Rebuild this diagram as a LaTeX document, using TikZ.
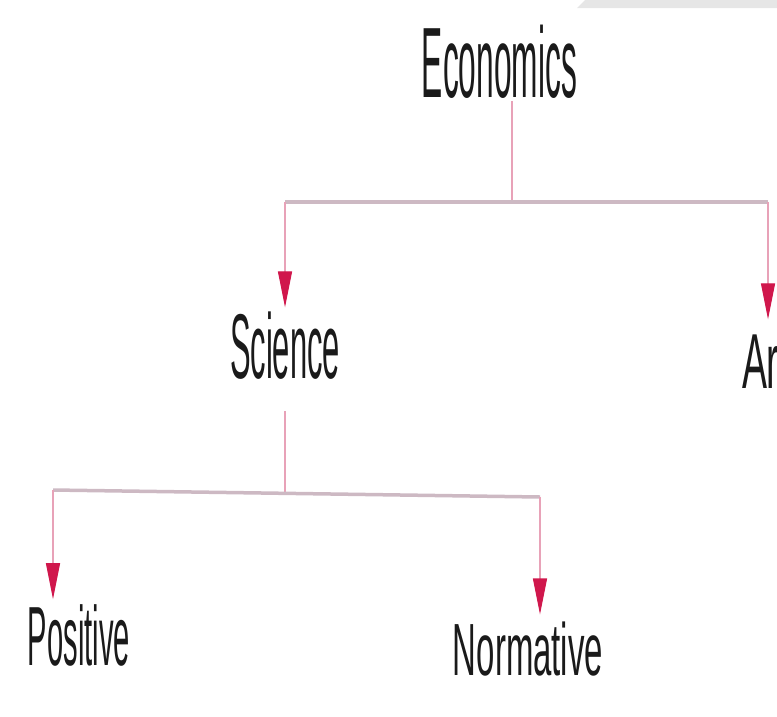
\documentclass[tikz,border=0pt]{standalone}
\usepackage{fontspec}
\setmainfont{Liberation Sans}
\usetikzlibrary{arrows.meta}
\definecolor{stemc}{HTML}{E8A2B8}
\definecolor{barc}{HTML}{CDB9C3}
\definecolor{tipc}{HTML}{D0174C}
\definecolor{topgray}{HTML}{E6E6E6}
\definecolor{txtc}{HTML}{1A1A1A}
\begin{document}
\begin{tikzpicture}[x=1pt,y=-1pt,
  lbl/.style={inner sep=0pt, outer sep=0pt, anchor=base, transform shape, text=txtc},
  stemline/.style={draw=stemc, line width=1.3pt},
  barline/.style={draw=barc, line width=3.5pt},
  arr/.style={stemline, -{Triangle[width=14pt,length=36pt,color=tipc]}}]
\useasboundingbox (0,0) rectangle (777,716);
\clip (0,0) rectangle (777,716);
\fill[topgray] (585,0) -- (777,0) -- (777,8) -- (577,8) -- cycle;

\node[lbl, xscale=0.317, font=\fontsize{100}{100}\selectfont] (econ) at (499.5,97) {Economics};
\node[lbl, xscale=0.336, font=\fontsize{92}{92}\selectfont] (sci) at (285,378) {Science};
\node[lbl, anchor=base west, xscale=0.48, font=\fontsize{78}{78}\selectfont] (art) at (742,388) {Art};
\node[lbl, xscale=0.347, font=\fontsize{84}{84}\selectfont] (pos) at (79,665) {Positive};
\node[lbl, xscale=0.445, font=\fontsize{74}{74}\selectfont] (norm) at (528,675) {Normative};

\coordinate (j1) at (512,202);
\coordinate (jL) at (285,202);
\coordinate (jR) at (768,202);
\coordinate (jPL) at (53,490);
\coordinate (jPR) at (540,497);
\coordinate (j2) at (285,493.3);

\draw[stemline] ([yshift=-3pt]econ.south -| j1) -- (j1);
\draw[barline] (jL) -- (jR);
\draw[arr, shorten >=4pt] (jL) -- (jL |- sci.north);
\draw[arr, shorten >=15pt] (jR) -- (jR |- art.north);

\draw[stemline] ([yshift=-32pt]sci.south) -- (j2);
\draw[barline] (jPL) -- (jPR);
\draw[arr, shorten >=5pt] (jPL) -- (jPL |- pos.north);
\draw[arr, shorten >=7pt] (jPR) -- (jPR |- norm.north);
\end{tikzpicture}
\end{document}
